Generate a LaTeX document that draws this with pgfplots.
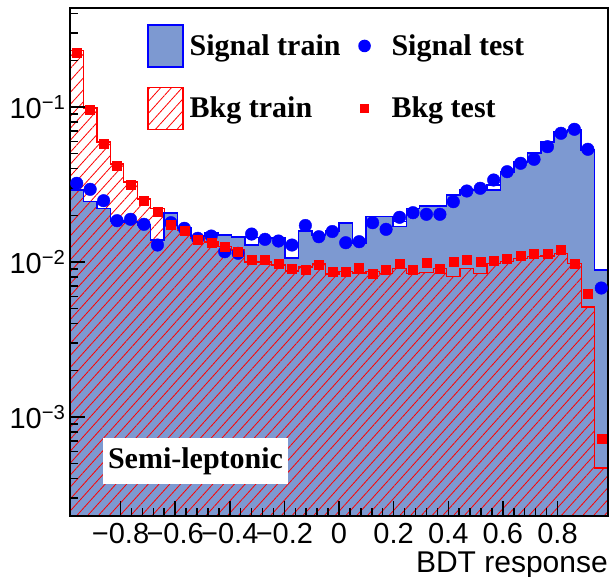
\documentclass[border=0pt]{standalone}
\usepackage{fontspec}
\setmainfont{Liberation Sans}
\newfontfamily\serifbf{Liberation Serif}
\usepackage{pgfplots}
\pgfplotsset{compat=1.18}
\usepackage{pgfplotstable}
\usetikzlibrary{patterns.meta}
\definecolor{sigfill}{RGB}{125,153,209}

% i = bin index (40 bins from -0.985 to 0.985); row 40 closes the step histograms
\pgfplotstableread{
i  st       sl       bt        sp       bp
0  0.02914  0.02914  0.2307    0.03219  0.2240
1  0.02449  0.02449  0.09852   0.02945  0.09564
2  0.02221  0.02221  0.05946   0.02486  0.05832
3  0.01839  0.01839  0.04288   0.01847  0.04181
4  0.01812  0.01812  0.03282   0.01886  0.03172
5  0.01733  0.01733  0.02550   0.01751  0.02475
6  0.01386  0.01386  0.02221   0.01287  0.02118
7  0.02071  0.02071  0.01759   0.01793  0.01733
8  0.01657  0.01657  0.01609   0.01650  0.01585
9  0.01471  0.01471  0.01428   0.01422  0.01386
10 0.01538  0.01538  0.01346   0.01471  0.01326
11 0.01493  0.01493  0.01255   0.01165  0.01250
12 0.01450  0.01450  0.01195   0.01138  0.01160
13 0.01287  0.01435  0.01000   0.01515  0.01030
14 0.01428  0.01428  0.01000   0.01401  0.01030
15 0.01428  0.01428  0.009564  0.01366  0.009808
16 0.01061  0.01287  0.008748  0.01287  0.009107
17 0.01585  0.01585  0.009284  0.01720  0.008973
18 0.01493  0.01493  0.009707  0.01456  0.009564
19 0.01585  0.01585  0.008367  0.01573  0.008659
20 0.01785  0.01785  0.008659  0.01332  0.008659
21 0.01326  0.01326  0.008492  0.01352  0.009243
22 0.01960  0.01960  0.008659  0.01793  0.008367
23 0.01960  0.01960  0.008454  0.01625  0.008878
24 0.01689  0.01820  0.009107  0.01943  0.009707
25 0.02221  0.02221  0.008454  0.02080  0.008878
26 0.02297  0.02297  0.008530  0.02031  0.009896
27 0.02297  0.02297  0.009107  0.02031  0.009107
28 0.02705  0.02705  0.008038  0.02449  0.010044
29 0.02914  0.02914  0.009107  0.02871  0.01035
30 0.02914  0.02914  0.008454  0.02989  0.010044
31 0.02914  0.03138  0.009808  0.03381  0.01015
32 0.03808  0.03808  0.010044  0.03825  0.01056
33 0.04417  0.04417  0.01056   0.04333  0.01093
34 0.05050  0.05050  0.01082   0.04598  0.01126
35 0.05946  0.05946  0.01093   0.05544  0.01126
36 0.06898  0.06898  0.01138   0.06767  0.01207
37 0.07106  0.07106  0.009808  0.07180  0.009808
38 0.05280  0.05280  0.005126  0.05335  0.006215
39 0.008878 0.008878 0.0004689 0.006797 0.0007287
40 0.008878 0.008878 0.0004689 0.006797 0.0007287
}\data

\begin{document}
\begin{tikzpicture}
\useasboundingbox (0,0) rectangle (610pt,577pt);
\begin{axis}[
  at={(70pt,61pt)}, anchor=south west,
  scale only axis, width=538pt, height=508pt,
  xmin=-0.985, xmax=0.985,
  ymode=log, ymin=2.3e-4, ymax=0.435,
  log origin y=infty,
  axis on top,
  axis line style={line width=1.5pt},
  every tick/.style={black, line width=1.5pt},
  major tick length=15pt, minor tick length=8pt,
  xtick pos=bottom, ytick pos=left,
  xtick={-0.8,-0.6,-0.4,-0.2,0,0.2,0.4,0.6,0.8},
  xticklabels={−0.8,−0.6,−0.4,−0.2,0,0.2,0.4,0.6,0.8},
  minor x tick num=4,
  ytick={1e-3,1e-2,1e-1},
  yticklabels={10\textsuperscript{−3},10\textsuperscript{−2},10\textsuperscript{−1}},
  minor ytick={3e-4,4e-4,5e-4,6e-4,7e-4,8e-4,9e-4,2e-3,3e-3,4e-3,5e-3,6e-3,7e-3,8e-3,9e-3,2e-2,3e-2,4e-2,5e-2,6e-2,7e-2,8e-2,9e-2,2e-1,3e-1,4e-1},
  tick label style={font=\fontsize{29}{33}\selectfont},
  xticklabel style={yshift=-4pt},
  yticklabel style={xshift=-1pt},
  xlabel={BDT response},
  xlabel style={at={(rel axis cs:1,0)}, anchor=base east, yshift=-56pt, inner sep=0pt, font=\fontsize{30}{34}\selectfont},
  legend columns=2,
  legend cell align=left,
  legend style={at={(rel axis cs:0.1431,0.9685)}, anchor=north west, draw=none, fill=none,
    inner sep=0pt, row sep=19pt, nodes={inner sep=0pt},
    font=\fontsize{30}{36}\selectfont\serifbf\bfseries,
    /tikz/column 1/.style={column sep=6pt},
    /tikz/column 2/.style={column sep=12pt},
    /tikz/column 3/.style={column sep=15pt}},
]
\addlegendimage{legend image code/.code={\draw[fill=sigfill, draw=blue, line width=1.5pt] (0pt,-21pt) rectangle (35pt,21pt);}}
\addlegendentry{Signal train}
\addlegendimage{legend image code/.code={\path[draw=none, fill=none] (0pt,-21pt) rectangle (24pt,21pt); \fill[blue, draw=none] (12pt,0pt) circle (6.3pt);}}
\addlegendentry{Signal test}
\addlegendimage{legend image code/.code={\draw[pattern={Lines[angle=48,distance=8pt,line width=0.8pt]}, pattern color=red, draw=red, line width=1.2pt] (0pt,-21pt) rectangle (35pt,21pt);}}
\addlegendentry{Bkg train}
\addlegendimage{legend image code/.code={\path[draw=none, fill=none] (0pt,-21pt) rectangle (24pt,21pt); \fill[red, draw=none] (7.5pt,-4.5pt) rectangle (16.5pt,4.5pt);}}
\addlegendentry{Bkg test}

\addplot[const plot, fill=sigfill, draw=blue, line width=1.5pt, forget plot]
  table[x expr=-0.985+0.04925*\thisrow{i}, y=st]{\data} \closedcycle;
\addplot[const plot, draw=red, line width=1.2pt, pattern={Lines[angle=48,distance=8pt,line width=0.8pt]}, pattern color=red, forget plot]
  table[x expr=-0.985+0.04925*\thisrow{i}, y=bt]{\data} \closedcycle;
\addplot[const plot, draw=blue, line width=1.5pt, forget plot]
  table[x expr=-0.985+0.04925*\thisrow{i}, y=sl]{\data};
\addplot[only marks, mark=*, mark size=6.3pt, blue, forget plot, skip coords between index={40}{41}]
  table[x expr=-0.985+0.04925*(\thisrow{i}+0.5), y=sp]{\data};
\addplot[only marks, mark=square*, mark size=4.5pt, red, forget plot, skip coords between index={40}{41}]
  table[x expr=-0.985+0.04925*(\thisrow{i}+0.5), y=bp]{\data};

\node[fill=white, inner sep=0pt, minimum width=185pt, minimum height=46pt,
      font=\fontsize{30}{36}\selectfont\serifbf\bfseries]
  at (rel axis cs:0.2333,0.1083) {Semi-leptonic};
\end{axis}
\end{tikzpicture}
\end{document}
